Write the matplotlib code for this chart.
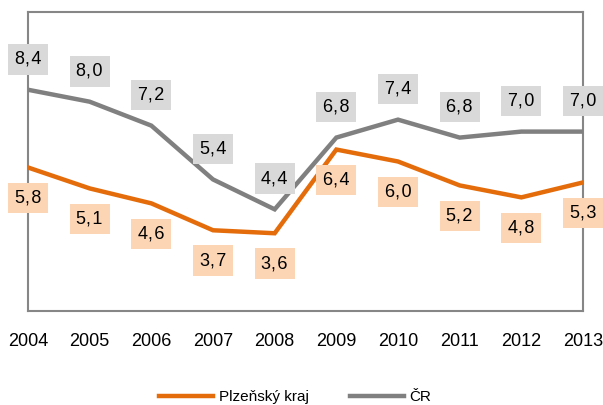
import numpy as np
import matplotlib.pyplot as plt

plt.rcParams['font.family'] = ['Liberation Sans', 'DejaVu Sans']

years = [2004, 2005, 2006, 2007, 2008, 2009, 2010, 2011, 2012, 2013]
plzen = [5.8, 5.1, 4.6, 3.7, 3.6, 6.4, 6.0, 5.2, 4.8, 5.3]
cr = [8.4, 8.0, 7.2, 5.4, 4.4, 6.8, 7.4, 6.8, 7.0, 7.0]

orange = '#E46C0A'
orange_box = '#FCD5B5'
grey = '#808080'
grey_box = '#D9D9D9'

fig = plt.figure(figsize=(6.03, 4.05), dpi=100)
ax = fig.add_axes([28 / 603, 94 / 405, 555 / 603, 299 / 405])

ax.plot(years, cr, color=grey, lw=3.2, label='ČR', solid_joinstyle='miter', zorder=3)
ax.plot(years, plzen, color=orange, lw=3.2, label='Plzeňský kraj', solid_joinstyle='miter', zorder=3)

def fmt(v):
    # excel style decimal comma with a tiny gap after it
    return ('%.1f' % v).replace('.', ',\u200a')

for x, v in zip(years, cr):
    ax.annotate(fmt(v), (x, v), xytext=(0, 22), textcoords='offset points',
                ha='center', va='center', fontsize=13, color='black',
                bbox=dict(boxstyle='square,pad=0.38', fc=grey_box, ec='none'),
                zorder=4, annotation_clip=False)

for x, v in zip(years, plzen):
    ax.annotate(fmt(v), (x, v), xytext=(0, -22), textcoords='offset points',
                ha='center', va='center', fontsize=13, color='black',
                bbox=dict(boxstyle='square,pad=0.38', fc=orange_box, ec='none'),
                zorder=4, annotation_clip=False)

ax.set_xlim(2004, 2013)
ax.set_ylim(1, 11)
ax.set_xticks(years)
ax.set_xticklabels([str(y) for y in years], fontsize=13)
ax.set_yticks([])
ax.tick_params(axis='x', length=0, pad=16)
for s in ax.spines.values():
    s.set_color('#868686')
    s.set_linewidth(1.5)

h, l = ax.get_legend_handles_labels()
fig.legend(h[::-1], l[::-1], loc='center', bbox_to_anchor=(0.49, 8 / 405), ncol=2,
           frameon=False, fontsize=11, handlelength=3.5, columnspacing=2.7,
           handletextpad=0.4)

fig.savefig('out.png', dpi=100)
